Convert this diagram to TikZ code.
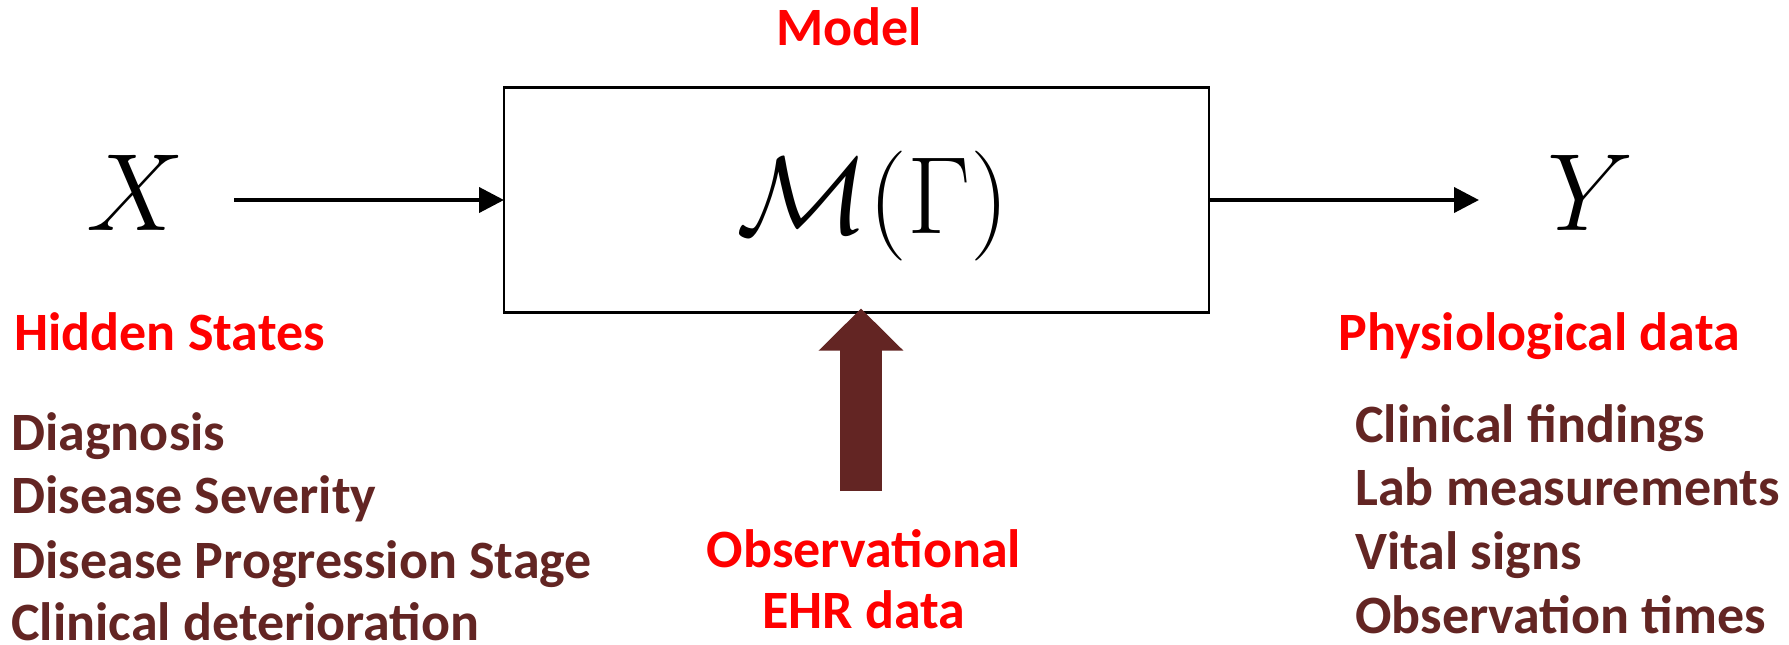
\RequirePackage{fix-cm}
\documentclass[tikz,border=0pt]{standalone}
\usepackage[no-math]{fontspec}
\newfontfamily\calib{Carlito}
\usetikzlibrary{arrows.meta}
\definecolor{hdr}{HTML}{FF0000}
\definecolor{itm}{HTML}{632523}
\begin{document}
\begin{tikzpicture}[x=0.5pt,y=-0.5pt,
  lbl/.style={font=\calib\bfseries\fontsize{27}{32}\selectfont, inner sep=0pt},
  head/.style={lbl, text=hdr},
  item/.style={lbl, text=itm},
  sym/.style={font=\fontsize{55}{60}\selectfont, inner sep=0pt},
  flow/.style={line width=2pt, -{Triangle[length=12.5pt,width=12.5pt]}},
  feed/.style={line width=21pt, draw=itm, -{Triangle[length=21pt,width=41pt]}},
]
\useasboundingbox (0,0) rectangle (1789,644);

% model block
\node[draw, line width=1.4pt, minimum width=352.5pt, minimum height=112.5pt,
      inner sep=0pt, outer sep=0pt] (box) at (856.5,200) {};
\node[sym, anchor=base] (mg) at (873,233) {$\mathcal{M}(\Gamma)$};
\node[head, anchor=base] (model) at (849,45) {Model};

% input and output
\node[sym, anchor=base] (x) at (136,230) {$X$};
\node[sym, anchor=base] (y) at (1591,230) {$Y$};
\coordinate (xs) at (234,200);
\coordinate (ye) at (1479,200);
\draw[flow] (xs) -- (box.west);
\draw[flow] (box.east) -- (ye);

% observational data feeding the model
\coordinate (ft) at (861,491);
\draw[feed] (ft) -- ([yshift=2pt]ft |- box.south);
\node[head, anchor=base] (obs1) at (864,567) {Observational};
\node[head, anchor=base] (obs2) at (864,628) {EHR data};

% hidden states
\node[head, anchor=base west] (hid) at (14,350) {Hidden States};
\node[item, anchor=base west] (h1) at (11,450) {Diagnosis};
\node[item, anchor=base west] (h2) at (11,513) {Disease Severity};
\node[item, anchor=base west] (h3) at (11,578) {Disease Progression Stage};
\node[item, anchor=base west] (h4) at (11,640) {Clinical deterioration};

% physiological data
\node[head, anchor=base west] (phy) at (1338,350) {Physiological data};
\node[item, anchor=base west] (p1) at (1355,442) {Clinical findings};
\node[item, anchor=base west] (p2) at (1355,505) {Lab measurements};
\node[item, anchor=base west] (p3) at (1355,569) {Vital signs};
\node[item, anchor=base west] (p4) at (1355,633) {Observation times};
\end{tikzpicture}
\end{document}
